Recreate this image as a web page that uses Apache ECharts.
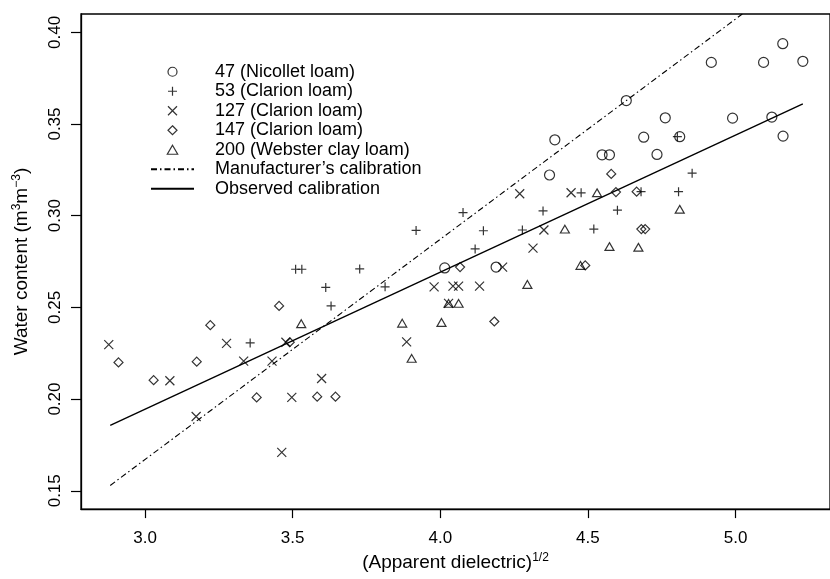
<!DOCTYPE html>
<html>
<head>
<meta charset="utf-8">
<script src="https://cdn.jsdelivr.net/npm/echarts@6/dist/echarts.min.js"></script>
<style>
  html, body { margin: 0; padding: 0; background: #fff; }
  #main { width: 830px; height: 579px; }
</style>
</head>
<body>
<div id="main"></div>
<script>
// points: [sqrt(apparent dielectric), water content]
var soil47 = [[4.015,0.2715],[4.189,0.272],[4.370,0.3222],[4.388,0.3414],[4.548,0.3332],[4.573,0.3332],
  [4.630,0.3628],[4.689,0.3428],[4.734,0.3334],[4.762,0.3534],[4.811,0.3431],[4.918,0.3836],[4.990,0.3532],
  [5.095,0.3836],[5.123,0.3538],[5.160,0.3938],[5.161,0.3434],[5.228,0.3842]];
var soil53 = [[3.356,0.2306],[3.510,0.2708],[3.531,0.2708],[3.612,0.2609],[3.630,0.2508],[3.727,0.2710],
  [3.813,0.2612],[3.918,0.2920],[4.077,0.3017],[4.118,0.2819],[4.146,0.2918],[4.278,0.2922],[4.348,0.3026],
  [4.477,0.3125],[4.520,0.2927],[4.600,0.3030],[4.680,0.3131],[4.803,0.3431],[4.807,0.3131],[4.853,0.3232]];
var soil127 = [[2.877,0.2297],[3.084,0.2100],[3.173,0.1905],[3.276,0.2304],[3.334,0.2207],[3.430,0.2207],
  [3.463,0.1709],[3.477,0.2310],[3.497,0.2009],[3.598,0.2112],[3.886,0.2312],[3.979,0.2612],[4.028,0.2522],
  [4.043,0.2616],[4.062,0.2616],[4.133,0.2616],[4.211,0.2720],[4.269,0.3120],[4.314,0.2823],[4.351,0.2922],
  [4.443,0.3125]];
var soil147 = [[2.910,0.2200],[3.029,0.2103],[3.175,0.2204],[3.221,0.2403],[3.378,0.2009],[3.454,0.2508],
  [3.490,0.2310],[3.583,0.2013],[3.645,0.2013],[4.067,0.2720],[4.183,0.2423],[4.491,0.2729],[4.579,0.3228],
  [4.595,0.3129],[4.665,0.3131],[4.681,0.2927],[4.694,0.2927]];
var soil200 = [[3.529,0.2411],[3.871,0.2414],[3.903,0.2222],[4.004,0.2418],[4.028,0.2522],[4.062,0.2522],
  [4.295,0.2625],[4.422,0.2927],[4.475,0.2729],[4.531,0.3125],[4.573,0.2832],[4.671,0.2828],[4.811,0.3035]];
var manufacturer = [[2.882,0.1529],[5.023,0.4100]];
var observed = [[2.882,0.1856],[5.228,0.3610]];

var xTicks = [3.0, 3.5, 4.0, 4.5, 5.0];
var yTicks = [0.15, 0.20, 0.25, 0.30, 0.35, 0.40];

var names = ['47 (Nicollet loam)', '53 (Clarion loam)', '127 (Clarion loam)', '147 (Clarion loam)',
  '200 (Webster clay loam)', 'Manufacturer\u2019s calibration', 'Observed calibration'];

var FONT = 'Liberation Sans, Arial, Helvetica, sans-serif';
var PLUS = 'path://M0,5L10,5M5,0L5,10';
var CROSS = 'path://M0,0L10,10M10,0L0,10';
var DIAMOND = 'path://M5,0L10,5L5,10L0,5Z';
var TRIANGLE = 'path://M5,0L10,8.66L0,8.66Z';

var openStyle = { color: 'none', borderColor: '#000', borderWidth: 1.2 };
var hiddenDot = { color: 'none', borderColor: 'none', borderWidth: 0, opacity: 0 };

function scatter(name, data, symbol, size) {
  return {
    name: name, type: 'scatter', data: data,
    symbol: symbol, symbolSize: size, symbolKeepAspect: true,
    itemStyle: openStyle
  };
}

var chart = echarts.init(document.getElementById('main'), null, { renderer: 'canvas' });

var option = {
  animation: false,
  backgroundColor: '#fff',
  grid: {
    left: 81, right: -5, top: 14, bottom: 64,
    show: true, borderColor: '#000', borderWidth: 1.3
  },
  legend: {
    orient: 'vertical', left: 150, top: 62, padding: 0,
    itemWidth: 43, itemHeight: 9, itemGap: 0,
    selectedMode: false,
    textStyle: { fontFamily: FONT, fontSize: 18, color: '#000', lineHeight: 19.5, padding: [0, 0, 0, 16] },
    data: names.slice(0, 5).map(function (n) {
      return { name: n, itemStyle: openStyle };
    }).concat([
      { name: names[5], itemStyle: hiddenDot },
      { name: names[6], itemStyle: hiddenDot }
    ])
  },
  xAxis: {
    type: 'value', min: 2.783, max: 5.32,
    splitLine: { show: false },
    axisLine: { show: true, lineStyle: { color: '#000', width: 1.3 } },
    axisTick: { show: true, length: 9, customValues: xTicks, lineStyle: { color: '#000', width: 1.2 } },
    axisLabel: {
      customValues: xTicks, margin: 21, fontFamily: FONT, fontSize: 17, color: '#000',
      formatter: function (v) { return v.toFixed(1); }
    },
    name: '(Apparent dielectric){sup|1/2}',
    nameLocation: 'middle', nameGap: 40,
    nameTextStyle: {
      fontFamily: FONT, fontSize: 19, color: '#000', lineHeight: 22,
      rich: { sup: { fontFamily: FONT, fontSize: 12, color: '#000', lineHeight: 22, verticalAlign: 'top' } }
    }
  },
  yAxis: {
    type: 'value', min: 0.14, max: 0.41,
    splitLine: { show: false },
    axisLine: { show: true, lineStyle: { color: '#000', width: 1.3 } },
    axisTick: { show: true, length: 10, customValues: yTicks, lineStyle: { color: '#000', width: 1.2 } },
    axisLabel: {
      customValues: yTicks, rotate: 90, margin: 17, fontFamily: FONT, fontSize: 17, color: '#000',
      formatter: function (v) { return v.toFixed(2); }
    },
    name: 'Water content (m{sup|3}m{sup|\u22123})',
    nameLocation: 'middle', nameGap: 48,
    nameTextStyle: {
      fontFamily: FONT, fontSize: 19, color: '#000', lineHeight: 22,
      rich: { sup: { fontFamily: FONT, fontSize: 12, color: '#000', lineHeight: 22, verticalAlign: 'top' } }
    }
  },
  series: [
    scatter(names[0], soil47, 'circle', 10),
    scatter(names[1], soil53, PLUS, 9),
    scatter(names[2], soil127, CROSS, 9),
    scatter(names[3], soil147, DIAMOND, 9),
    scatter(names[4], soil200, TRIANGLE, 9),
    {
      name: names[5], type: 'line', data: manufacturer, symbol: 'none',
      itemStyle: { color: '#000' },
      lineStyle: { color: '#000', width: 1.1, type: [6, 3, 1.5, 3] }
    },
    {
      name: names[6], type: 'line', data: observed, symbol: 'none',
      itemStyle: { color: '#000' },
      lineStyle: { color: '#000', width: 1.4 }
    }
  ]
};

chart.setOption(option);
</script>
</body>
</html>
